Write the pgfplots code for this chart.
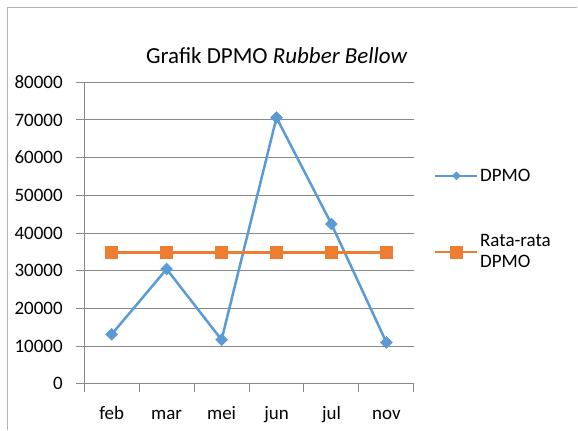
\documentclass[border=0pt]{standalone}
\usepackage{fontspec}
\setmainfont{Carlito}
\usepackage{pgfplots}
\pgfplotsset{compat=1.18}
\definecolor{dblue}{HTML}{5B9BD5}
\definecolor{dorange}{HTML}{ED7D31}
\definecolor{gridgray}{HTML}{898989}
\begin{document}
\begin{tikzpicture}[x=1pt,y=1pt]
\fill[white] (0,0) rectangle (578,430);
\draw[gray!60, line width=1.2pt] (7.5,0) -- (7.5,422.5) -- (578,422.5);
\begin{axis}[
  at={(84.3pt,45.7pt)}, anchor=south west,
  scale only axis, width=330pt, height=302pt,
  xmin=0, xmax=6, ymin=0, ymax=80000,
  axis lines*=left,
  xtick={0.5,1.5,2.5,3.5,4.5,5.5},
  xticklabels={feb,mar,mei,jun,jul,nov},
  major x tick style={draw=none},
  minor xtick={0,1,2,3,4,5,6},
  ytick={0,10000,20000,30000,40000,50000,60000,70000,80000},
  scaled y ticks=false,
  /pgf/number format/assume math mode=true,
  yticklabel style={/pgf/number format/fixed, /pgf/number format/1000 sep={}},
  ymajorgrids,
  grid style={gridgray, line width=1pt},
  axis line style={gridgray, line width=1pt},
  tick style={gridgray, line width=1pt},
  tick align=outside, major tick length=8pt, minor tick length=8pt,
  ticklabel style={font=\fontsize{19}{22}\selectfont, text=black},
  xticklabel style={text height=10pt, text depth=4pt, yshift=-14pt},
  yticklabel style={xshift=-10pt},
  title={Grafik DPMO \textit{Rubber Bellow}},
  title style={at={(0.584,1)}, anchor=base, yshift=12.7pt, font=\fontsize{23}{26}\selectfont},
  legend style={at={(1.052,0.725)}, anchor=north west, draw=none, fill=none,
    font=\fontsize{19}{21}\selectfont, row sep=49pt,
    nodes={align=left, inner sep=1.5pt}},
  legend cell align=left,
  legend image code/.code={\draw[mark repeat=2,mark phase=2,#1] plot coordinates {(0pt,0pt) (21pt,0pt) (42pt,0pt)};},
  clip=false,
]
\addplot[dblue, line width=2.5pt, mark=square*, mark size=4.2pt, mark options={solid, rotate=45, line width=0.5pt},
  legend image post style={mark size=2.8pt}]
  coordinates {(0.5,13150) (1.5,30450) (2.5,11700) (3.5,70600) (4.5,42400) (5.5,11000)};
\addlegendentry{DPMO}
\addplot[dorange, line width=2.5pt, mark=square*, mark size=6pt, mark options={solid, line width=0.5pt}]
  coordinates {(0.5,34900) (1.5,34900) (2.5,34900) (3.5,34900) (4.5,34900) (5.5,34900)};
\addlegendentry{Rata-rata\\DPMO}
\end{axis}
\end{tikzpicture}
\end{document}
